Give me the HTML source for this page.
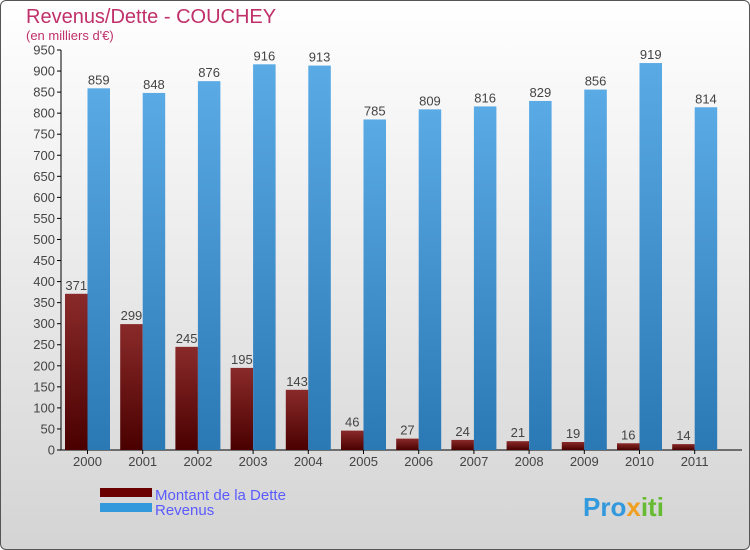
<!DOCTYPE html>
<html><head><meta charset="utf-8"><style>
body{margin:0;width:750px;height:550px;overflow:hidden;font-family:"Liberation Sans",sans-serif;}
#frame{position:absolute;left:0;top:0;width:748px;height:548px;border:1px solid #555;border-radius:6px;background:linear-gradient(#ffffff,#d4d4d4);}
</style></head><body>
<div id="frame"></div>
<svg id="c" width="750" height="550" style="position:absolute;left:0;top:0">
<defs>
<linearGradient id="gd" x1="0" y1="0" x2="0" y2="1"><stop offset="0" stop-color="#8a2a2a"/><stop offset="1" stop-color="#4a0000"/></linearGradient>
<linearGradient id="gr" x1="0" y1="0" x2="0" y2="1"><stop offset="0" stop-color="#5aaae6"/><stop offset="1" stop-color="#2a78b4"/></linearGradient>
</defs>
<text x="26" y="23" font-size="20" fill="#c0306a">Revenus/Dette - COUCHEY</text>
<text x="26" y="40" font-size="13" fill="#c0306a">(en milliers d'€)</text>
<g id="axes"></g><g id="bars"></g>
<rect x="100" y="488" width="52" height="9" fill="#6a0000"/>
<text x="155" y="500" font-size="15" fill="#5a5aff">Montant de la Dette</text>
<rect x="100" y="503" width="52" height="9" fill="#3399dd"/>
<text x="155" y="515" font-size="15" fill="#5a5aff">Revenus</text>
<text x="583" y="516" font-size="26" font-weight="bold" fill="#3399dd">Pro<tspan fill="#f0a020">x</tspan><tspan fill="#66bb33">iti</tspan></text>
</svg>
<script>
const categories=["2000","2001","2002","2003","2004","2005","2006","2007","2008","2009","2010","2011"];
const dette=[371,299,245,195,143,46,27,24,21,19,16,14];
const revenus=[859,848,876,916,913,785,809,816,829,856,919,814];
const yTicks=[0,50,100,150,200,250,300,350,400,450,500,550,600,650,700,750,800,850,900,950];
const NS="http://www.w3.org/2000/svg";
const y0=450,yTop=50,yMax=950,x0=65,step=55.2,bw=22.5;
const y=v=>y0-(v/yMax)*(y0-yTop);
const x=i=>x0+i*step;
function mk(t,a,p){const e=document.createElementNS(NS,t);for(const k in a)e.setAttribute(k,a[k]);p.appendChild(e);return e;}
const ax=document.getElementById('axes'),bg=document.getElementById('bars');
const yl=mk('line',{x1:61,y1:yTop,x2:61,y2:y0,stroke:'#000'},ax);


const xl=mk('line',{x1:61,y1:y0,x2:742,y2:y0,stroke:'#000'},ax);


yTicks.forEach(t=>{
 mk('line',{x1:57,x2:61,y1:y(t),y2:y(t),stroke:'#000'},ax);
 const tx=mk('text',{x:55,y:y(t)+4.5,'text-anchor':'end','font-size':13,fill:'#444'},ax);
 tx.textContent=t;
 
 
});
categories.forEach((c,i)=>{
 const cx=x(i)+bw;
 mk('line',{x1:cx,x2:cx,y1:y0,y2:y0+4,stroke:'#000'},ax);
 const tx=mk('text',{x:cx,y:466,'text-anchor':'middle','font-size':13,fill:'#444'},ax);
 tx.textContent=c;
 
 
 const b1=mk('rect',{x:x(i),y:y(dette[i]),width:bw,height:y0-y(dette[i]),fill:'url(#gd)'},bg);
 
 
 const b2=mk('rect',{x:x(i)+bw,y:y(revenus[i]),width:bw,height:y0-y(revenus[i]),fill:'url(#gr)'},bg);
 
 
 const l1=mk('text',{x:x(i)+bw/2,y:y(dette[i])-4,'text-anchor':'middle','font-size':13,fill:'#444'},bg);
 l1.textContent=dette[i];
 
 
 const l2=mk('text',{x:x(i)+bw*1.5,y:y(revenus[i])-4,'text-anchor':'middle','font-size':13,fill:'#444'},bg);
 l2.textContent=revenus[i];
 
 
});
</script>
</body></html>
